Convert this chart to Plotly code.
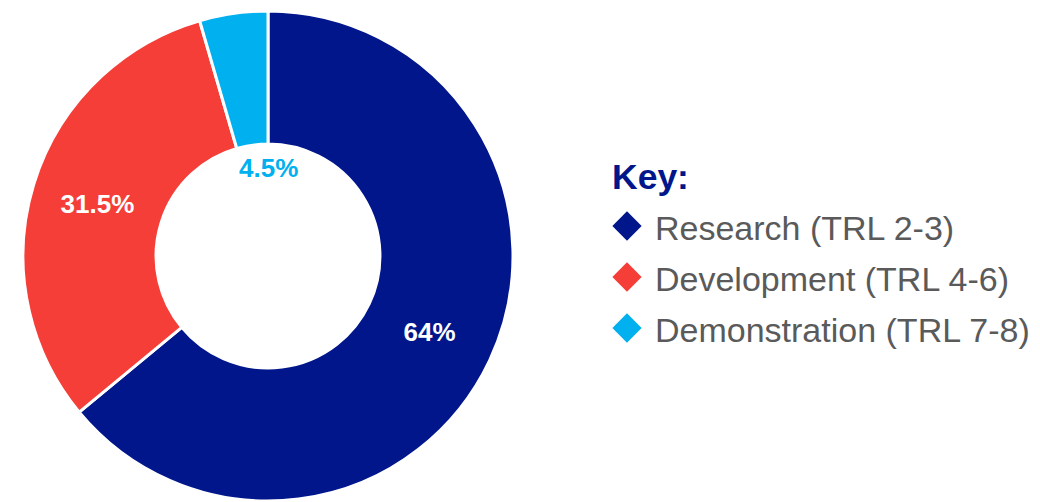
import plotly.graph_objects as go

# ---- data ----
categories = ["Research (TRL 2-3)", "Development (TRL 4-6)", "Demonstration (TRL 7-8)"]
shares = [64, 31.5, 4.5]
colors = ["#00168A", "#F43E37", "#00B0EF"]
key_title = "Key:"

W, H = 1040, 502
cx, cy, R = 268, 256, 245
hole = 0.457

fig = go.Figure()

inside_text = [f"{v:g}%" for v in shares]
inside_text[2] = ""  # small slice labelled in the hole

fig.add_trace(go.Pie(
    values=shares,
    labels=categories,
    text=inside_text,
    textinfo="text",
    textposition="inside",
    insidetextorientation="horizontal",
    insidetextfont=dict(family="Liberation Sans", size=26, color="white", weight="bold"),
    sort=False,
    direction="clockwise",
    rotation=0,
    hole=hole,
    marker=dict(colors=colors, line=dict(color="white", width=3)),
    domain=dict(x=[(cx - R) / W, (cx + R) / W], y=[1 - (cy + R) / H, 1 - (cy - R) / H]),
    showlegend=False,
    hoverinfo="skip",
))

# legend as diamond markers on a hidden pixel-space axis
ys = [226 + 51 * i for i in range(len(categories))]
fig.add_trace(go.Scatter(
    x=[627] * len(categories), y=ys, mode="markers",
    marker=dict(symbol="diamond", size=22.5, color=colors, line=dict(width=0)),
    showlegend=False, hoverinfo="skip",
))

annotations = []
for name, y in zip(categories, ys):
    annotations.append(dict(x=653, y=y + 2, xref="x", yref="y", text=name, showarrow=False,
                            xanchor="left", yanchor="middle",
                            font=dict(family="Liberation Sans", size=34, color="#5A5A5A")))
annotations.append(dict(x=610, y=177, xref="x", yref="y", text=f"<b>{key_title}</b>", showarrow=False,
                        xanchor="left", yanchor="middle",
                        font=dict(family="Liberation Sans", size=35.5, color="#00168A")))
# label for the smallest slice, placed in the hole
annotations.append(dict(x=cx, y=cy - 0.785 * hole * R, xref="x", yref="y", text=f"<b>{shares[2]:g}%</b>",
                        showarrow=False, xanchor="center", yanchor="middle",
                        font=dict(family="Liberation Sans", size=26, color=colors[2])))

fig.update_layout(
    width=W, height=H,
    margin=dict(l=0, r=0, t=0, b=0),
    paper_bgcolor="white", plot_bgcolor="rgba(0,0,0,0)",
    xaxis=dict(range=[0, W], visible=False, fixedrange=True),
    yaxis=dict(range=[H, 0], visible=False, fixedrange=True),
    annotations=annotations,
)

fig.write_html("out.html")
